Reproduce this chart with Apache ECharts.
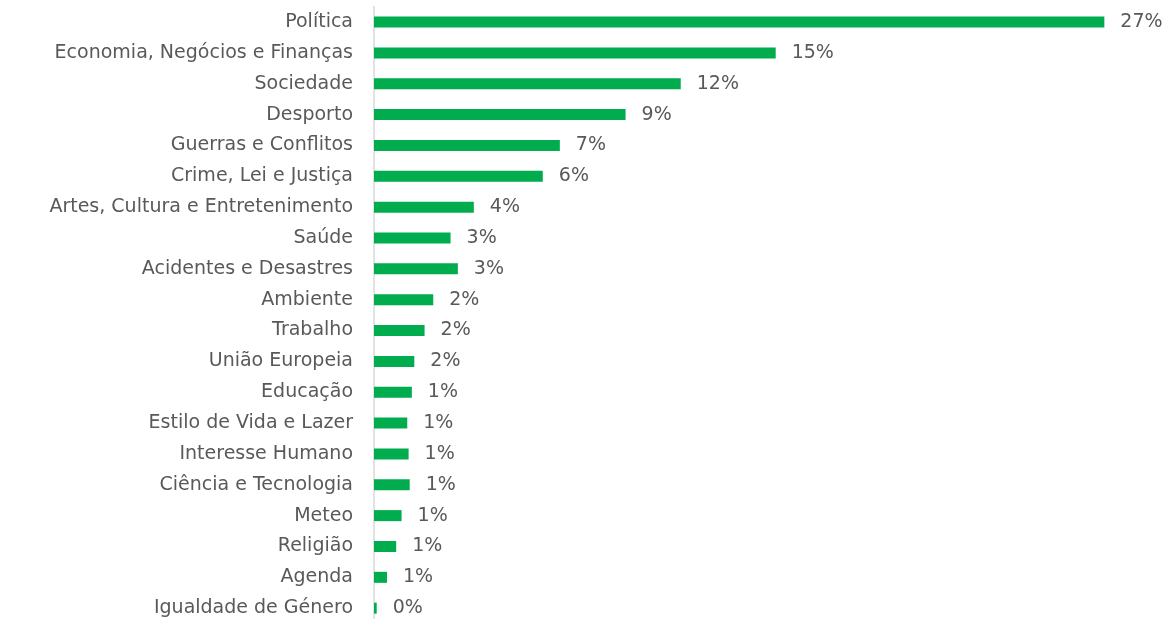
<!DOCTYPE html>
<html>
<head>
<meta charset="utf-8">
<script src="https://cdn.jsdelivr.net/npm/echarts@6/dist/echarts.min.js"></script>
<style>html,body{margin:0;padding:0;background:#fff}#c{width:1175px;height:619px}</style>
</head>
<body>
<div id="c"></div>
<script>
const categories = ["Política","Economia, Negócios e Finanças","Sociedade","Desporto","Guerras e Conflitos","Crime, Lei e Justiça","Artes, Cultura e Entretenimento","Saúde","Acidentes e Desastres","Ambiente","Trabalho","União Europeia","Educação","Estilo de Vida e Lazer","Interesse Humano","Ciência e Tecnologia","Meteo","Religião","Agenda","Igualdade de Género"];
const values = [27.0,14.85,11.34,9.30,6.87,6.24,3.69,2.83,3.10,2.19,1.87,1.49,1.40,1.23,1.28,1.32,1.02,0.82,0.48,0.10];
const labelTexts = ["27%","15%","12%","9%","7%","6%","4%","3%","3%","2%","2%","2%","1%","1%","1%","1%","1%","1%","1%","0%"];

const chart = echarts.init(document.getElementById('c'));
const font = "'DejaVu Sans', sans-serif";
chart.setOption({
  animation:false,
  grid:{left:374, top:6.6, bottom:-4.6, width:27.05*28, outerBoundsMode:'none', containLabel:false},
  xAxis:{type:'value', min:0, max:28, show:false},
  yAxis:{type:'category', inverse:true, data:categories,
    axisLine:{show:true, lineStyle:{color:'#d9d9d9', width:1.5}},
    axisTick:{show:false},
    axisLabel:{color:'#595959', fontSize:19, fontFamily:font, margin:21}
  },
  series:[{type:'bar', data:values, barWidth:11, itemStyle:{color:'#00ac4e'},
    label:{show:true, position:'right', distance:16, color:'#595959', fontSize:19, fontFamily:font,
      formatter:p=>labelTexts[p.dataIndex]}
  }]
});
</script>
</body>
</html>
